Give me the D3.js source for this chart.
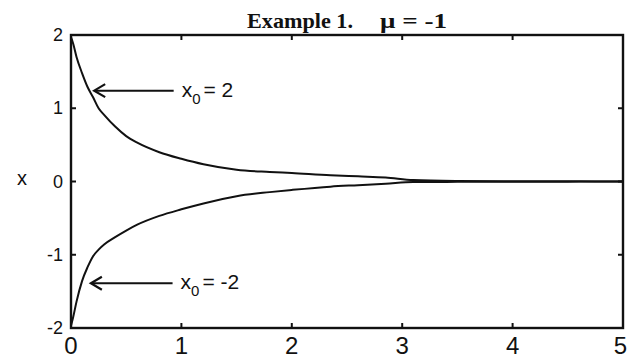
<!DOCTYPE html>
<html>
<head>
<meta charset="utf-8">
<script src="https://cdn.jsdelivr.net/npm/d3@7"></script>
<style>
  html, body { margin: 0; padding: 0; background: #fff; }
  svg { display: block; }
</style>
</head>
<body>
<div id="chart"></div>
<script>
// Trajectories x(t) for mu = -1, starting from x0 = 2 and x0 = -2
const tValues = [0, 0.02, 0.05, 0.1, 0.15, 0.2, 0.25, 0.3, 0.4, 0.5, 0.6, 0.8, 1.0, 1.2, 1.5, 1.8, 2.0, 2.35, 2.6, 2.85, 3.1, 3.5, 4.0, 4.5, 5.0];
const upperX = [1.97, 1.88, 1.70, 1.48, 1.29, 1.15, 1.00, 0.91, 0.75, 0.62, 0.53, 0.40, 0.31, 0.235, 0.16, 0.13, 0.115, 0.085, 0.07, 0.055, 0.02, 0.008, 0.004, 0.002, 0.0];
const lowerX = [-1.97, -1.85, -1.64, -1.36, -1.17, -1.02, -0.93, -0.86, -0.76, -0.67, -0.59, -0.47, -0.38, -0.30, -0.20, -0.145, -0.115, -0.07, -0.05, -0.03, -0.008, -0.005, -0.003, -0.002, 0.0];

const xTicks = [0, 1, 2, 3, 4, 5];
const yTicks = [-2, -1, 0, 1, 2];

(function draw() {
  const W = 628, H = 360;
  const mLeft = 71, mRight = 623, mTop = 35, mBottom = 328;
  const ink = "#111";

  const svg = d3.select("#chart").append("svg")
    .attr("width", W).attr("height", H)
    .style("background", "#fff");

  const x = d3.scaleLinear().domain([0, 5]).range([mLeft, mRight]);
  const y = d3.scaleLinear().domain([-2, 2]).range([mBottom, mTop]);

  // Trajectories
  const line = d3.line()
    .x(d => x(d[0]))
    .y(d => y(d[1]))
    .curve(d3.curveMonotoneX);

  [upperX, lowerX].forEach(vals => {
    svg.append("path")
      .datum(tValues.map((t, i) => [t, vals[i]]))
      .attr("d", line)
      .attr("fill", "none")
      .attr("stroke", ink)
      .attr("stroke-width", 2);
  });

  // Frame
  svg.append("rect")
    .attr("x", mLeft).attr("y", mTop)
    .attr("width", mRight - mLeft).attr("height", mBottom - mTop)
    .attr("fill", "none")
    .attr("stroke", ink)
    .attr("stroke-width", 2.4);

  // Inward ticks on all four sides
  const tickLen = 5;
  const innerX = xTicks.filter(v => v > 0 && v < 5);
  const innerY = yTicks.filter(v => v > -2 && v < 2);
  svg.append("g").selectAll("line").data(innerX).join("line")
    .attr("x1", d => x(d)).attr("x2", d => x(d))
    .attr("y1", mBottom).attr("y2", mBottom - tickLen)
    .attr("stroke", ink).attr("stroke-width", 2);
  svg.append("g").selectAll("line").data(innerX).join("line")
    .attr("x1", d => x(d)).attr("x2", d => x(d))
    .attr("y1", mTop).attr("y2", mTop + tickLen)
    .attr("stroke", ink).attr("stroke-width", 2);
  svg.append("g").selectAll("line").data(innerY).join("line")
    .attr("x1", mLeft).attr("x2", mLeft + tickLen)
    .attr("y1", d => y(d)).attr("y2", d => y(d))
    .attr("stroke", ink).attr("stroke-width", 2);
  svg.append("g").selectAll("line").data(innerY).join("line")
    .attr("x1", mRight).attr("x2", mRight - tickLen)
    .attr("y1", d => y(d)).attr("y2", d => y(d))
    .attr("stroke", ink).attr("stroke-width", 2);

  // Tick labels (the last one is kept inside the page edge)
  const sans = "'Liberation Sans', Arial, sans-serif";
  const xMax = d3.max(xTicks);
  svg.append("g").selectAll("text").data(xTicks).join("text")
    .attr("x", d => d === xMax ? W - 1 : x(d))
    .attr("y", 354)
    .attr("text-anchor", d => d === xMax ? "end" : "middle")
    .attr("font-family", sans)
    .attr("font-size", 24)
    .attr("fill", ink)
    .text(d => d);

  svg.append("g").selectAll("text").data(yTicks).join("text")
    .attr("x", 63)
    .attr("y", d => y(d) + 6)
    .attr("text-anchor", "end")
    .attr("font-family", sans)
    .attr("font-size", 18)
    .attr("fill", ink)
    .text(d => d);

  // Axis label
  svg.append("text")
    .attr("x", 22).attr("y", y(0) + 3)
    .attr("text-anchor", "middle")
    .attr("font-family", sans)
    .attr("font-size", 20)
    .attr("fill", ink)
    .text("x");

  // Title
  const serif = "'Liberation Serif', 'Times New Roman', serif";
  svg.append("text")
    .attr("x", 247).attr("y", 28)
    .attr("font-family", serif)
    .attr("font-weight", "bold")
    .attr("font-size", 21)
    .attr("textLength", 106)
    .attr("lengthAdjust", "spacingAndGlyphs")
    .attr("fill", ink)
    .text("Example 1.");
  svg.append("text")
    .attr("x", 380).attr("y", 28)
    .attr("font-family", serif)
    .attr("font-weight", "bold")
    .attr("font-size", 21)
    .attr("textLength", 67)
    .attr("lengthAdjust", "spacingAndGlyphs")
    .attr("fill", ink)
    .text("μ = -1");

  // Annotations: arrow pointing at each trajectory, with its initial value
  const annotations = [
    { tip: [0.21, 1.24], tail: 0.93, value: "2" },
    { tip: [0.18, -1.39], tail: 0.92, value: "-2" }
  ];

  annotations.forEach(a => {
    const tx = x(a.tip[0]), ty = y(a.tip[1]);
    const ex = x(a.tail);
    svg.append("line")
      .attr("x1", tx + 1).attr("x2", ex)
      .attr("y1", ty).attr("y2", ty)
      .attr("stroke", ink).attr("stroke-width", 2);
    svg.append("path")
      .attr("d", `M${tx + 11},${ty - 6.5} L${tx},${ty} L${tx + 11},${ty + 6.5}`)
      .attr("fill", "none")
      .attr("stroke", ink)
      .attr("stroke-width", 2.2);
    const label = svg.append("text")
      .attr("x", ex + 8).attr("y", ty + 6)
      .attr("font-family", sans)
      .attr("font-size", 21)
      .attr("fill", ink);
    label.append("tspan").text("x");
    label.append("tspan")
      .attr("dy", 7).attr("font-size", 15)
      .text("0");
    label.append("tspan")
      .attr("dy", -7).attr("dx", 3)
      .text("= " + a.value);
  });
})();
</script>
</body>
</html>
